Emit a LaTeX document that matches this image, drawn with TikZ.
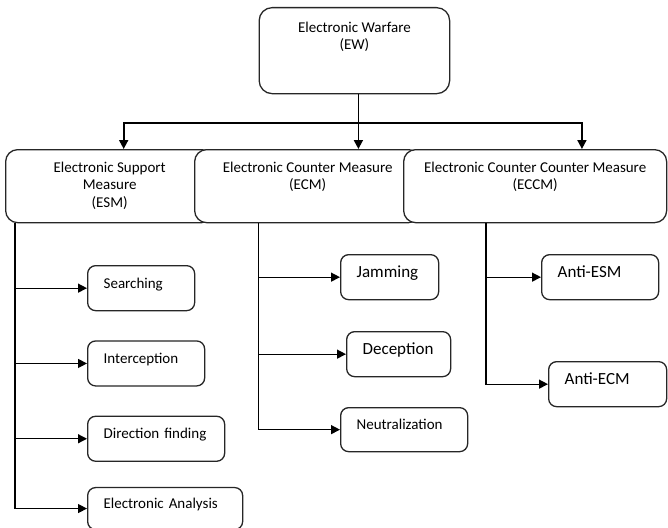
\documentclass[tikz,border=0pt]{standalone}
\usepackage{fontspec}
\setmainfont{Carlito}
\usepackage{tikz}
\usetikzlibrary{positioning,arrows.meta,calc}
\tikzset{
  mainbox/.style={draw=black!85, line width=1.3pt, rounded corners=13pt, fill=white, align=center, anchor=north west, inner xsep=0pt, inner ysep=0pt, font=\fontsize{15pt}{17.5pt}\selectfont},
  groupbox/.style={mainbox, rounded corners=12pt},
  leaf/.style={draw=black!85, line width=1.3pt, rounded corners=8pt, fill=white, align=left, anchor=north west, inner xsep=16pt, inner ysep=0pt, text height=22.5pt, text depth=22.5pt, font=\fontsize{15pt}{18pt}\selectfont},
  bigleaf/.style={leaf, font=\fontsize{17pt}{20pt}\selectfont},
  arr/.style={-{Triangle[length=9pt,width=9pt]}, line width=1.3pt, draw=black},
  busarr/.style={arr, line width=1.8pt},
}
\begin{document}
\begin{tikzpicture}[x=1pt,y=-1pt]
  \useasboundingbox (0,0) rectangle (668,527);
  % top level
  \node[mainbox, minimum width=190.5pt, text height=42.3pt, text depth=43.7pt] (ew) at (258.5,7) {Electronic Warfare\\(EW)};
  % second level, each drawn over the one before
  \node[groupbox, minimum width=208pt, text height=57.8pt, text depth=15.2pt] (esm) at (5,149) {Electronic Support\\Measure\\(ESM)};
  \node[groupbox, minimum width=226pt, text height=40.3pt, text depth=32.7pt] (ecm) at (194,149) {Electronic Counter Measure\\(ECM)};
  \node[groupbox, minimum width=263pt, text height=40.3pt, text depth=32.7pt] (eccm) at (403,149) {Electronic Counter Counter Measure\\(ECCM)};
  % ESM tasks
  \node[leaf, text width=75pt] (srch) at (87,265) {Searching};
  \node[leaf, text width=85pt, below=29pt of srch.south west, anchor=north west] (icpt) {Interception};
  \node[leaf, text width=105pt, below=29pt of icpt.south west, anchor=north west] (dirf) {Direction finding};
  \node[leaf, text width=123pt, text height=21pt, text depth=21pt, below=25pt of dirf.south west, anchor=north west] (ana) {Electronic Analysis};
  % ECM tasks
  \node[bigleaf, text width=66pt] (jam) at (340,254) {Jamming};
  \node[bigleaf, text width=72pt] (dec) at (346,331) {Deception};
  \node[leaf, text width=95pt, text height=22pt, text depth=22pt] (neut) at (340,407) {Neutralization};
  % ECCM tasks
  \node[bigleaf, text width=85pt] (aesm) at (541,254) {Anti-ESM};
  \node[bigleaf, text width=86pt] (aecm) at (548,361) {Anti-ECM};
  % connectors from the top
  \coordinate (bus) at (0,123);
  \coordinate (stem) at ($(ew.south)+(4,0)$);
  \draw[busarr] (stem) -- (stem |- ecm.north);
  \draw[busarr] (stem |- bus) -| ($(esm.north west)!0.567!(esm.north east)$);
  \draw[busarr] (stem |- bus) -| ($(eccm.north west)!0.677!(eccm.north east)$);
  % trunks
  \coordinate (esmtrunk) at ($(esm.south west)+(10,0)$);
  \coordinate (ecmtrunk) at ($(ecm.south west)+(64.5,0)$);
  \coordinate (eccmtrunk) at ($(eccm.south west)+(83,0)$);
  \draw[arr] (esmtrunk) |- (ana.west);
  \foreach \t in {srch,icpt,dirf}
    \draw[arr] (esmtrunk |- \t.west) -- (\t.west);
  \draw[arr] (ecmtrunk) |- (neut.west);
  \foreach \t in {jam,dec}
    \draw[arr] (ecmtrunk |- \t.west) -- (\t.west);
  \draw[arr] (eccmtrunk) |- (aecm.west);
  \draw[arr] (eccmtrunk |- aesm.west) -- (aesm.west);
\end{tikzpicture}
\end{document}
